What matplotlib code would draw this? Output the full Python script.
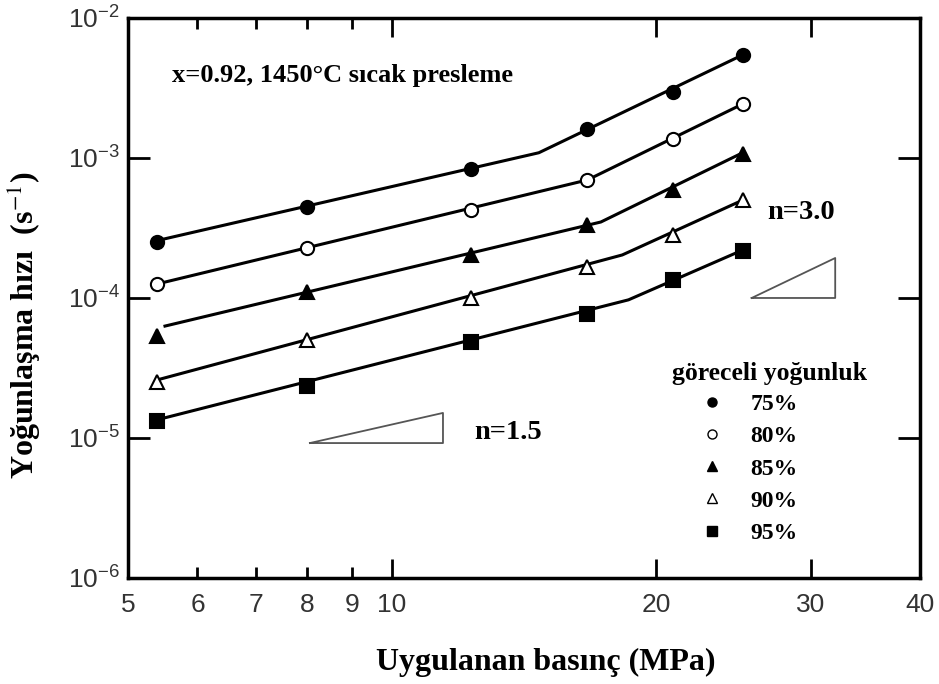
import numpy as np
import matplotlib.pyplot as plt
from matplotlib.lines import Line2D

plt.rcParams['mathtext.fontset'] = 'stix'

# --- データ ---
pressure = [5.4, 8.0, 12.3, 16.7, 20.9, 25.1]      # MPa
rate_75 = [2.5e-4, 4.5e-4, 8.3e-4, 1.61e-3, 2.96e-3, 5.45e-3]
rate_80 = [1.26e-4, 2.28e-4, 4.25e-4, 6.97e-4, 1.37e-3, 2.43e-3]
rate_85 = [5.35e-5, 1.10e-4, 2.03e-4, 3.32e-4, 5.9e-4, 1.07e-3]
rate_90 = [2.51e-5, 5.0e-5, 1.0e-4, 1.66e-4, 2.82e-4, 5.0e-4]
rate_95 = [1.32e-5, 2.35e-5, 4.85e-5, 7.7e-5, 1.35e-4, 2.17e-4]

# 近似直線 (始点, 折れ点, 終点)
fit_x_75 = [5.44, 14.7, 25.1]
fit_y_75 = [2.6e-4, 1.09e-3, 5.45e-3]
fit_x_80 = [5.4, 16.7, 25.1]
fit_y_80 = [1.26e-4, 6.97e-4, 2.43e-3]
fit_x_85 = [5.51, 17.3, 25.1]
fit_y_85 = [6.3e-5, 3.49e-4, 1.09e-3]
fit_x_90 = [5.4, 18.3, 25.1]
fit_y_90 = [2.6e-5, 2.03e-4, 5.0e-4]
fit_x_95 = [5.4, 18.6, 25.1]
fit_y_95 = [1.35e-5, 9.7e-5, 2.2e-4]

labels = ['75%', '80%', '85%', '90%', '95%']

# 傾きの三角形
tri15_x = [8.06, 11.43, 11.43, 8.06]
tri15_y = [9.2e-6, 9.2e-6, 1.51e-5, 9.2e-6]
tri30_x = [25.7, 32.0, 32.0, 25.7]
tri30_y = [1.0e-4, 1.0e-4, 1.93e-4, 1.0e-4]

series = [
    (rate_75, fit_x_75, fit_y_75, 'o', 'black'),
    (rate_80, fit_x_80, fit_y_80, 'o', 'white'),
    (rate_85, fit_x_85, fit_y_85, '^', 'black'),
    (rate_90, fit_x_90, fit_y_90, '^', 'white'),
    (rate_95, fit_x_95, fit_y_95, 's', 'black'),
]

fig = plt.figure(figsize=(9.39, 6.84), dpi=100)
ax = fig.add_axes([0.1363, 0.155, 0.8437, 0.8187])
ax.set_xscale('log')
ax.set_yscale('log')
ax.set_xlim(5, 40)
ax.set_ylim(1e-6, 1e-2)

handles = []
for rates, fx, fy, mk, fc in series:
    ax.plot(fx, fy, color='black', lw=2.2, zorder=2)
    ax.plot(pressure, rates, linestyle='none', marker=mk, markersize=9.5,
            markerfacecolor=fc, markeredgecolor='black', markeredgewidth=1.5, zorder=3)
    handles.append(Line2D([], [], linestyle='none', marker=mk, markersize=6.5,
                          markerfacecolor=fc, markeredgecolor='black', markeredgewidth=1.0))

ax.plot(tri15_x, tri15_y, color='#555555', lw=1.3)
ax.plot(tri30_x, tri30_y, color='#555555', lw=1.3)

serif = 'Liberation Serif'
ax.text(5.61, 3.9e-3, 'x=0.92, 1450°C sıcak presleme', family=serif,
        fontweight='bold', fontsize=19, va='center')
ax.text(12.4, 1.1e-5, 'n=1.5', family=serif, fontweight='bold', fontsize=20.5, va='center')
ax.text(26.8, 4.05e-4, 'n=3.0', family=serif, fontweight='bold', fontsize=20.5, va='center')

leg = ax.legend(handles, labels, title='göreceli yoğunluk', frameon=False,
                loc='upper left', bbox_to_anchor=(0.687, 0.385),
                handlelength=3.4, handletextpad=-0.1, labelspacing=0.45,
                borderpad=0.0, borderaxespad=0.0,
                prop={'family': serif, 'weight': 'bold', 'size': 17},
                title_fontproperties={'family': serif, 'weight': 'bold', 'size': 18.5},
                alignment='left')
leg._legend_box.sep = 6

# 目盛り
ax.set_xticks([5, 10, 20, 30, 40])
ax.set_xticks([6, 7, 8, 9], minor=True)
ax.set_xticklabels(['5', '10', '20', '30', '40'])
ax.set_xticklabels(['6', '7', '8', '9'], minor=True)
ax.set_yticks([1e-6, 1e-5, 1e-4, 1e-3, 1e-2])
ax.yaxis.set_minor_locator(plt.NullLocator())
ax.tick_params(which='both', direction='in', top=True, right=True,
               width=2.0, labelsize=19, labelcolor='#333333', pad=11)
ax.tick_params(axis='x', which='major', length=14)
ax.tick_params(axis='x', which='minor', length=8)
ax.tick_params(axis='y', which='major', length=16, pad=6)
for lab in ax.get_xticklabels(which='both') + ax.get_yticklabels():
    lab.set_family('Liberation Sans')
for s in ax.spines.values():
    s.set_linewidth(2.5)

ax.set_xlabel('Uygulanan basınç (MPa)', family=serif, fontweight='bold',
              fontsize=23, labelpad=22)
ax.xaxis.label.set_x(0.527)
ax.set_ylabel('Yoğunlaşma hızı  (s$^{-1}$)', family=serif, fontweight='bold',
              fontsize=23, labelpad=18)
ax.yaxis.label.set_y(0.452)

fig.savefig('out.png', dpi=100)
